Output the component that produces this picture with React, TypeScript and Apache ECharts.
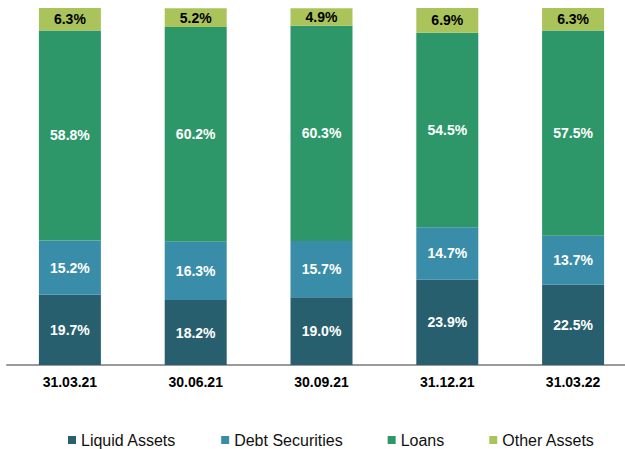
import React, { useEffect, useRef } from "react";
import * as echarts from "echarts";

const categories = ["31.03.21", "30.06.21", "30.09.21", "31.12.21", "31.03.22"];
const liquidAssets = [19.7, 18.2, 19.0, 23.9, 22.5];
const debtSecurities = [15.2, 16.3, 15.7, 14.7, 13.7];
const loans = [58.8, 60.2, 60.3, 54.5, 57.5];
const otherAssets = [6.3, 5.2, 4.9, 6.9, 6.3];

const seriesNames = ["Liquid Assets", "Debt Securities", "Loans", "Other Assets"];
const colors = ["#285F6F", "#3A8DA8", "#2D976A", "#ABC35B"];
const FONT = "'Liberation Sans', Arial, sans-serif";

export default function App() {
  const ref = useRef<HTMLDivElement>(null);
  useEffect(() => {
    document.body.style.margin = "0";
    document.body.style.overflow = "hidden";
    const chart = echarts.init(ref.current!, null, { renderer: "svg" });
    const datasets = [liquidAssets, debtSecurities, loans, otherAssets];
    chart.setOption({
      animation: false,
      textStyle: { fontFamily: FONT },
      grid: { left: 7, right: 0, top: 8, bottom: 84, containLabel: false },
      legend: {
        data: seriesNames,
        left: 68,
        top: 432,
        icon: "rect",
        itemWidth: 8,
        itemHeight: 8,
        itemGap: 45,
        padding: 0,
        textStyle: { fontSize: 16, lineHeight: 16, color: "#111", fontFamily: FONT },
      },
      xAxis: {
        type: "category",
        data: categories,
        axisLine: { show: true, lineStyle: { color: "#9a9a9a", width: 2 } },
        axisTick: { show: false },
        axisLabel: { fontSize: 14, fontWeight: "bold", color: "#000", margin: 10, fontFamily: FONT },
      },
      yAxis: { type: "value", min: 0, max: 100, show: false, splitLine: { show: false } },
      series: datasets.map((d, i) => ({
        name: seriesNames[i],
        type: "bar",
        stack: "total",
        barWidth: 62,
        data: d,
        itemStyle: { color: colors[i] },
        label: {
          show: true,
          position: "inside",
          fontSize: 14,
          fontWeight: "bold",
          fontFamily: FONT,
          color: i === 3 ? "#000" : "#fff",
          formatter: (p: any) => Number(p.value).toFixed(1) + "%",
        },
      })),
    });
    return () => chart.dispose();
  }, []);
  return (
    <div style={{ width: 625, height: 449, overflow: "hidden" }}>
      <div ref={ref} style={{ width: 636, height: 449 }} />
    </div>
  );
}
